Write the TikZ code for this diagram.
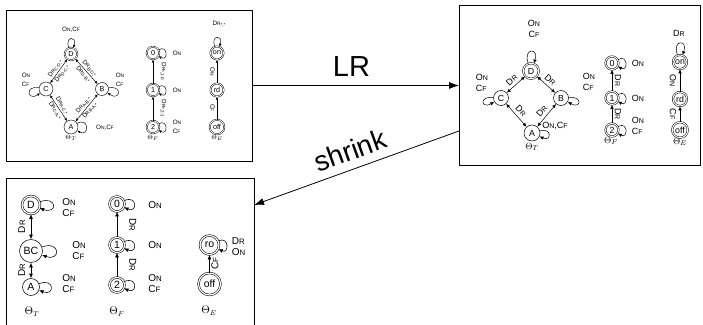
\documentclass[tikz,border=0pt]{standalone}
\usepackage[no-math]{fontspec}
\setmainfont{Liberation Sans}
\usepackage{graphicx}
\usetikzlibrary{arrows.meta}

% event names in small capitals
\newcommand\On{O\scalebox{0.78}{N}}
\newcommand\Cf{C\scalebox{0.78}{F}}
\newcommand\Dr{D\scalebox{0.78}{R}}
\newcommand\lsub[1]{\raisebox{-0.3ex}{\scalebox{0.72}{#1}}}
\newcommand\setfs[2]{\fontsize{#1}{#2}\selectfont}

\begin{document}
\begin{tikzpicture}[x=1pt,y=-1pt,
  frame/.style={draw, line width=1pt, inner sep=0pt, outer sep=0pt},
  big/.style={line width=0.8pt, -{Latex[length=10pt,width=7pt]}},
  st/.style={circle, draw, inner sep=0pt},
  % small panel
  st1/.style={st, line width=0.45pt, font=\setfs{7.2}{8}},
  acc1/.style={st1, double, double distance=0.8pt},
  ar1/.style={line width=0.45pt, -{Latex[length=3pt,width=2.6pt]}},
  bi1/.style={line width=0.45pt, {Latex[length=3pt,width=2.6pt]}-{Latex[length=3pt,width=2.6pt]}},
  lab1/.style={font=\setfs{6.3}{9}, inner sep=1pt},
  th1/.style={font=\setfs{6.5}{8}, inner sep=0pt},
  % right panel
  st2/.style={st, line width=0.5pt, font=\setfs{8.8}{10}},
  acc2/.style={st2, double, double distance=1pt},
  ar2/.style={line width=0.5pt, -{Latex[length=4pt,width=3.4pt]}},
  bi2/.style={line width=0.5pt, {Latex[length=4pt,width=3.4pt]}-{Latex[length=4pt,width=3.4pt]}},
  lab2/.style={font=\setfs{9}{11}, inner sep=1.5pt},
  th2/.style={font=\setfs{9.5}{11}, inner sep=0pt},
  % bottom panel
  st3/.style={st, line width=0.55pt, font=\setfs{10.5}{12}},
  acc3/.style={st3, double, double distance=1.2pt},
  ar3/.style={line width=0.55pt, -{Latex[length=4.5pt,width=3.8pt]}},
  bi3/.style={line width=0.55pt, {Latex[length=4.5pt,width=3.8pt]}-{Latex[length=4.5pt,width=3.8pt]}},
  lab3/.style={font=\setfs{10}{11}, inner sep=1.5pt},
  th3/.style={font=\setfs{10.5}{12}, inner sep=0pt}
]
\useasboundingbox (0,0) rectangle (703,324);

% ---------- frames and transformations ----------
\node[frame, minimum width=246pt, minimum height=151pt] (box1) at (129,85.5) {};
\node[frame, minimum width=241pt, minimum height=160pt] (box2) at (579.5,85) {};
\node[frame, minimum width=248pt, minimum height=154pt] (box3) at (130,255) {};

\coordinate (lrEnd) at (box2.west |- box1.east);
\coordinate (shStart) at (box2.west |- 0,131);
\coordinate (shEnd) at (box3.east |- 0,205);
\draw[big] (box1.east) -- node[font=\setfs{29}{30}, inner sep=0pt, above=9pt, xshift=-4pt] (lrLabel) {LR} (lrEnd);
\draw[big] (shStart) -- node[font=\setfs{28}{30}, inner sep=0pt, sloped, above=8pt] (shLabel) {shrink} (shEnd);

% ---------- small panel: Theta_T ----------
\node[acc1, minimum size=12.5pt] (pD) at (71,54) {D};
\node[st1, minimum size=14pt] (pC) at (46,89) {C};
\node[st1, minimum size=13pt] (pB) at (102,89) {B};
\node[st1, minimum size=14pt] (pA) at (71,127) {A};
\node[th1] (pT) at (71,138) {$\Theta_T$};

\draw[bi1] (pC) -- node[lab1, sloped, above] {\Dr\lsub{C-D,*}} node[lab1, sloped, below] {\Dr\lsub{D-C,*}} (pD);
\draw[bi1] (pD) -- node[lab1, sloped, above] {\Dr\lsub{B-D,*}} node[lab1, sloped, below] {\Dr\lsub{D-B,*}} (pB);
\draw[bi1] (pC) -- node[lab1, sloped, above] {\Dr\lsub{A-C,*}} node[lab1, sloped, below] {\Dr\lsub{C-A,*}} (pA);
\draw[bi1] (pA) -- node[lab1, sloped, above] {\Dr\lsub{A-B,*}} node[lab1, sloped, below] {\Dr\lsub{B-A,*}} (pB);

\draw[ar1] (pD.110) .. controls +(110:13pt) and +(70:13pt) .. (pD.70);
\node[lab1] (pDl) at (71,30) {\On,\Cf};
\draw[ar1] (pC.170) .. controls +(170:15pt) and +(215:15pt) .. (pC.215);
\node[lab1, align=left] (pCl) at (26,79.5) {\On\\\Cf};
\draw[ar1] (pB.10) .. controls +(10:15pt) and +(-35:15pt) .. (pB.-35);
\node[lab1, align=left] (pBl) at (120,79.5) {\On\\\Cf};
\draw[ar1] (pA.30) .. controls +(30:14pt) and +(-30:14pt) .. (pA.-30);
\node[lab1] (pAl) at (105,128) {\On,\Cf};

% ---------- small panel: Theta_F ----------
\node[acc1, minimum size=12.5pt] (p0) at (153,53) {0};
\node[acc1, minimum size=12.5pt] (p1) at (153,90) {1};
\node[acc1, minimum size=12.5pt] (p2) at (153,127) {2};
\node[th1] (pFT) at (153,138) {$\Theta_F$};
\draw[ar1] (p1) -- node[lab1, rotate=-90, anchor=south, inner sep=7pt] {\Dr\lsub{*,1-0}} (p0);
\draw[ar1] (p2) -- node[lab1, rotate=-90, anchor=south, inner sep=7pt] {\Dr\lsub{*,2-1}} (p1);
\draw[ar1] (p0.30) .. controls +(30:11pt) and +(-30:11pt) .. (p0.-30);
\node[lab1] (p0l) at (177,53) {\On};
\draw[ar1] (p1.30) .. controls +(30:11pt) and +(-30:11pt) .. (p1.-30);
\node[lab1] (p1l) at (177,90) {\On};
\draw[ar1] (p2.30) .. controls +(30:11pt) and +(-30:11pt) .. (p2.-30);
\node[lab1, align=left] (p2l) at (177,126.5) {\On\\\Cf};

% ---------- small panel: Theta_E ----------
\node[acc1, minimum size=13pt] (pon) at (217,53) {on};
\node[acc1, minimum size=13pt] (prd) at (217,90) {rd};
\node[acc1, minimum size=14.5pt] (poff) at (217,127) {off};
\node[th1] (pET) at (217,138) {$\Theta_E$};
\draw[ar1] (prd) -- node[lab1, rotate=-90, anchor=north, inner sep=2pt] {\On} (pon);
\draw[ar1] (poff) -- node[lab1, rotate=-90, anchor=north, inner sep=2pt] {\Cf} (prd);
\draw[ar1] (pon.110) .. controls +(110:13pt) and +(70:13pt) .. (pon.70);
\node[lab1] (ponl) at (219,24) {\Dr\lsub{*,*}};

% ---------- right panel: Theta_T ----------
\node[acc2, minimum size=15.5pt] (qD) at (531,71) {D};
\node[st2, minimum size=15pt] (qC) at (501,98) {C};
\node[st2, minimum size=15pt] (qB) at (561,98) {B};
\node[st2, minimum size=16pt] (qA) at (532,133) {A};
\node[th2] (qT) at (532,147) {$\Theta_T$};

\draw[bi2] (qC) -- node[lab2, sloped, above, inner sep=3pt] {\Dr} (qD);
\draw[bi2] (qD) -- node[lab2, sloped, above, inner sep=3pt] {\Dr} (qB);
\draw[bi2] (qC) -- node[lab2, sloped, above, inner sep=3pt] {\Dr} (qA);
\draw[bi2] (qA) -- node[lab2, sloped, above, inner sep=3pt] {\Dr} (qB);

\draw[ar2] (qD.110) .. controls +(110:17pt) and +(70:17pt) .. (qD.70);
\node[lab2, align=center] (qDl) at (534,28.5) {\On\\\Cf};
\draw[ar2] (qC.175) .. controls +(175:15pt) and +(210:15pt) .. (qC.210);
\node[lab2, align=left] (qCl) at (482,83) {\On\\\Cf};
\draw[ar2] (qB.5) .. controls +(5:15pt) and +(-30:15pt) .. (qB.-30);
\node[lab2, align=left] (qBl) at (589,81.5) {\On\\\Cf};
\draw[ar2] (qA.15) .. controls +(15:13pt) and +(-25:13pt) .. (qA.-25);
\node[lab2] (qAl) at (555,125.5) {\On,\Cf};

% ---------- right panel: Theta_F ----------
\node[acc2, minimum size=13pt] (q0) at (612,63) {0};
\node[acc2, minimum size=13pt] (q1) at (612,98) {1};
\node[acc2, minimum size=13pt] (q2) at (612,130) {2};
\node[th2] (qFT) at (611,141) {$\Theta_F$};
\draw[ar2] (q1) -- node[lab2, rotate=-90, anchor=south, inner sep=2.5pt] {\Dr} (q0);
\draw[ar2] (q2) -- node[lab2, rotate=-90, anchor=south, inner sep=2.5pt] {\Dr} (q1);
\draw[ar2] (q0.30) .. controls +(30:12pt) and +(-30:12pt) .. (q0.-30);
\node[lab2] (q0l) at (638,63) {\On};
\draw[ar2] (q1.30) .. controls +(30:12pt) and +(-30:12pt) .. (q1.-30);
\node[lab2] (q1l) at (638,98) {\On};
\draw[ar2] (q2.30) .. controls +(30:12pt) and +(-30:12pt) .. (q2.-30);
\node[lab2, align=left] (q2l) at (638,126) {\On\\\Cf};

% ---------- right panel: Theta_E ----------
\node[acc2, minimum size=14pt] (qon) at (680,62) {on};
\node[acc2, minimum size=14pt] (qrd) at (680,99) {rd};
\node[acc2, minimum size=15.5pt] (qoff) at (680,130) {off};
\node[th2] (qET) at (680,142) {$\Theta_E$};
\draw[ar2] (qrd) -- node[lab2, rotate=-90, anchor=north, inner sep=3.5pt] {\On} (qon);
\draw[ar2] (qoff) -- node[lab2, rotate=-90, anchor=north, inner sep=3.5pt] {\Cf} (qrd);
\draw[ar2] (qon.110) .. controls +(110:17pt) and +(70:17pt) .. (qon.70);
\node[lab2] (qonl) at (679,33) {\Dr};

% ---------- bottom panel: Theta_T ----------
\node[acc3, minimum size=18pt] (rD) at (31,205) {D};
\node[st3, minimum size=23pt] (rBC) at (31,251) {BC};
\node[st3, minimum size=17pt] (rA) at (31,287) {A};
\node[th3] (rT) at (32,312) {$\Theta_T$};
\draw[bi3] (rD) -- node[lab3, rotate=90, anchor=south, inner sep=5.5pt] {\Dr} (rBC);
\draw[bi3] (rBC) -- node[lab3, rotate=90, anchor=south, inner sep=5.5pt] {\Dr} (rA);
\draw[ar3] (rD.20) .. controls +(20:19pt) and +(-20:19pt) .. (rD.-20);
\node[lab3, align=left] (rDl) at (69,207.5) {\On\\\Cf};
\draw[ar3] (rBC.20) .. controls +(20:20pt) and +(-20:20pt) .. (rBC.-20);
\node[lab3, align=left] (rBCl) at (79,250.5) {\On\\\Cf};
\draw[ar3] (rA.22) .. controls +(22:17pt) and +(-22:17pt) .. (rA.-22);
\node[lab3, align=left] (rAl) at (69,283.5) {\On\\\Cf};

% ---------- bottom panel: Theta_F ----------
\node[acc3, minimum size=15pt] (r0) at (117,204) {0};
\node[acc3, minimum size=15pt] (r1) at (117,245) {1};
\node[acc3, minimum size=15pt] (r2) at (117,285) {2};
\node[th3] (rFT) at (117,312) {$\Theta_F$};
\draw[ar3] (r1) -- node[lab3, rotate=-90, anchor=south, inner sep=12pt] {\Dr} (r0);
\draw[ar3] (r2) -- node[lab3, rotate=-90, anchor=south, inner sep=12pt] {\Dr} (r1);
\draw[ar3] (r0.25) .. controls +(25:15pt) and +(-25:15pt) .. (r0.-25);
\node[lab3] (r0l) at (155,205) {\On};
\draw[ar3] (r1.25) .. controls +(25:15pt) and +(-25:15pt) .. (r1.-25);
\node[lab3] (r1l) at (155,245) {\On};
\draw[ar3] (r2.25) .. controls +(25:15pt) and +(-25:15pt) .. (r2.-25);
\node[lab3, align=left] (r2l) at (155,283.5) {\On\\\Cf};

% ---------- bottom panel: Theta_E ----------
\node[acc3, minimum size=19pt] (rro) at (209.5,245) {ro};
\node[acc3, minimum size=22pt] (roff) at (209.5,284) {off};
\node[th3] (rET) at (209,311) {$\Theta_E$};
\draw[ar3] (roff) -- node[lab3, rotate=90, anchor=north, inner sep=1.5pt] {\Cf} (rro);
\draw[ar3] (rro.25) .. controls +(25:12pt) and +(-25:12pt) .. (rro.-25);
\node[lab3, align=left] (rrol) at (238.5,246.5) {\Dr\\\On};
\end{tikzpicture}
\end{document}
